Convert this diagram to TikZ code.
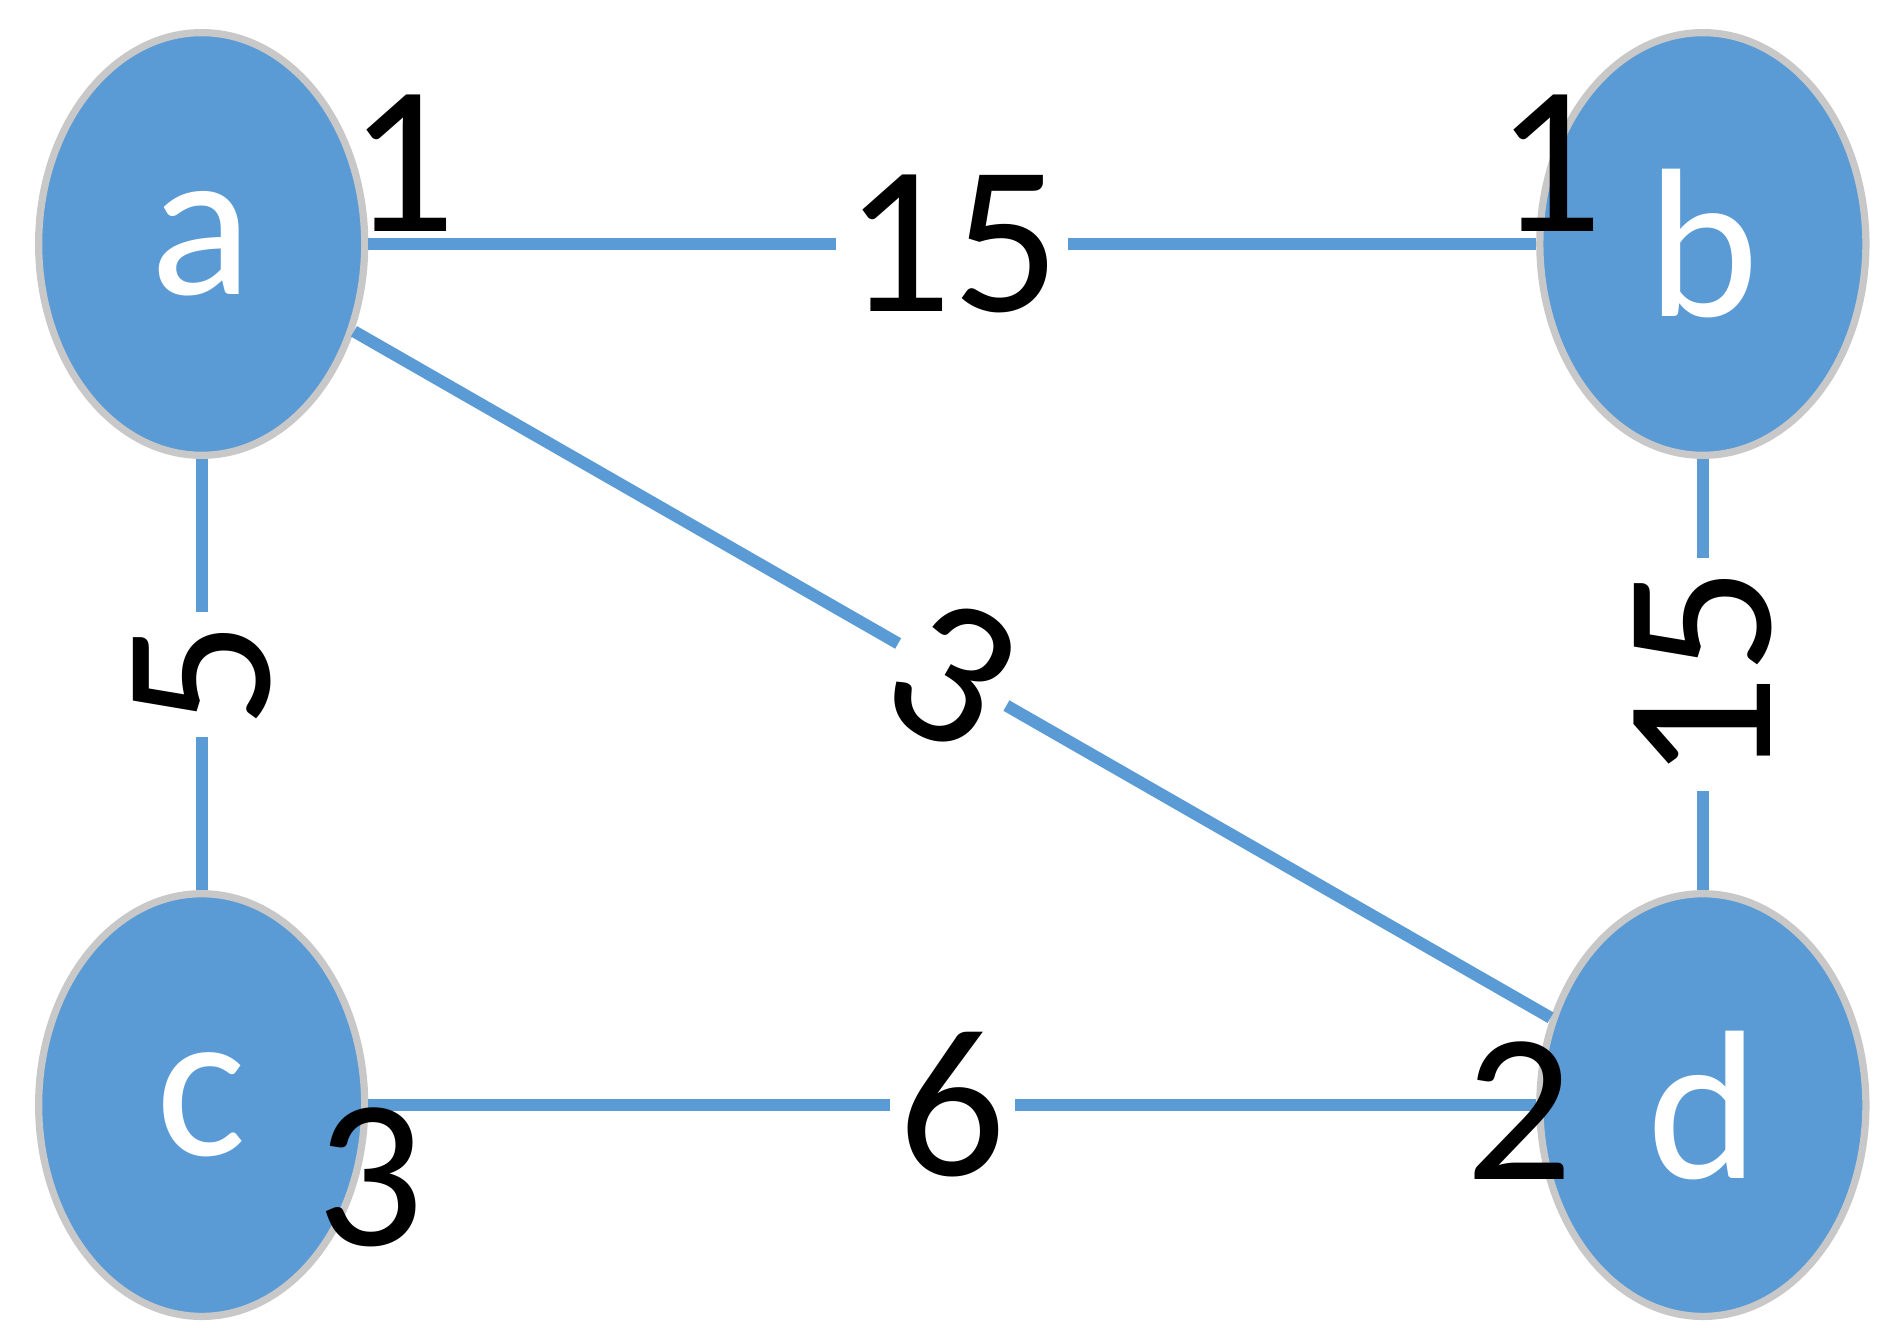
\documentclass[tikz,border=0pt]{standalone}
\usepackage{fontspec}
\setmainfont{Carlito}
\usetikzlibrary{shapes.geometric}
\definecolor{nodeblue}{HTML}{5B9BD5}
\definecolor{rimgray}{HTML}{C8C8C8}
\tikzset{
  vertex/.style={ellipse, fill=nodeblue, draw=rimgray, line width=0.06cm,
    minimum width=2.7cm, minimum height=3.5cm, inner sep=0pt,
    text=white, font=\fontsize{50}{60}\selectfont},
  edge/.style={draw=nodeblue, line width=0.1cm},
  weight/.style={fill=white, inner sep=2pt, font=\fontsize{50}{60}\selectfont},
  portlabel/.style={inner sep=0pt, font=\fontsize{50}{60}\selectfont}
}
\begin{document}
\begin{tikzpicture}
  \useasboundingbox (0,0) rectangle (15.6,-11.1);
  % vertices
  \node[vertex] (a) at (1.67,-2.02) {a};
  \node[vertex] (b) at (14.10,-2.02) {b};
  \node[vertex] (c) at (1.67,-9.15) {c};
  \node[vertex] (d) at (14.10,-9.15) {d};

  % edges
  \draw[edge] (a.east) -- node[weight] {15} (b.west);
  \draw[edge] (a) -- node[weight, rotate=90] {5} (c);
  \draw[edge] (b) -- node[weight, rotate=90] {15} (d);
  \draw[edge] (a) -- node[weight, sloped] {3} (d);
  \draw[edge] (c.east) -- node[weight] {6} (d.west);

  % port labels
  \node[portlabel] (pa) at (3.33,-1.35) {1};
  \node[portlabel] (pb) at (12.83,-1.35) {1};
  \node[portlabel] (pc) at (3.07,-9.75) {3};
  \node[portlabel] (pd) at (12.58,-9.20) {2};
\end{tikzpicture}
\end{document}
